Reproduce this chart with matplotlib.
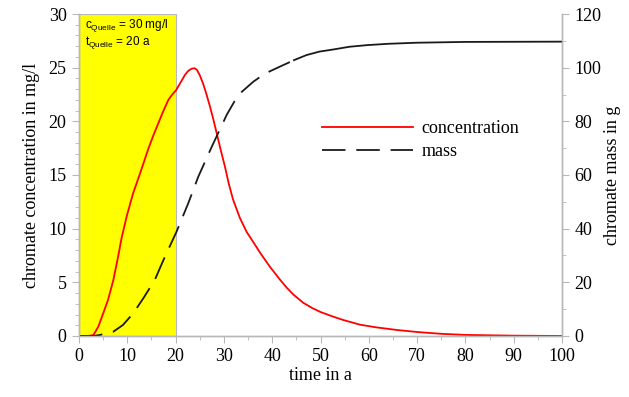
import numpy as np
import matplotlib
matplotlib.use('Agg')
import matplotlib.pyplot as plt
from matplotlib.ticker import MultipleLocator

#----------------------------------------------------------------------
# DATA
t_conc = [0, 2, 3, 4, 5, 6, 7.1, 8.1, 8.8, 9.9, 11.2, 12.6, 13.5, 14.4,
          15.4, 16.4, 17.4, 18.5, 19.3, 20.1, 21.0, 21.9, 22.6, 23.3, 23.9, 24.4, 25.0,
          25.7, 26.4, 27.1, 27.8, 28.5, 29.3, 30.2, 31.0, 31.9, 33.3, 34.7, 36.0, 37.5,
          39.5, 41.6, 43.0, 44.4, 46.4, 48.2, 49.9, 52.3, 54.7, 58.2, 61.6, 65.8, 70,
          75, 80, 90, 100]
conc = [0, 0, 0.1, 0.87, 2.1, 3.35, 5.2, 7.4, 9.1, 11.2, 13.3, 15.1, 16.3, 17.5,
        18.7, 19.8, 20.9, 22.0, 22.5, 22.9, 23.6, 24.3, 24.7, 24.9, 24.95, 24.8, 24.3,
        23.5, 22.5, 21.4, 20.2, 18.9, 17.4, 15.8, 14.2, 12.7, 11.0, 9.7, 8.8, 7.75,
        6.46, 5.25, 4.5, 3.85, 3.1, 2.62, 2.25, 1.85, 1.49, 1.05, 0.8, 0.56, 0.37,
        0.2, 0.1, 0.03, 0.0]

t_mass = [0, 3, 4.35, 7.1, 9.1, 11.2, 13.3, 15.7, 16.8, 17.8, 20.2, 22.6, 24.7, 27.5,
          30.6, 32.2, 33.7, 36.1, 38.5, 41.6, 44.5, 47.1, 49.8, 52.7, 56, 59.6, 64,
          69.9, 80, 100]
mass = [0, 0, 0.4, 1.6, 4.1, 8.4, 14.0, 20.9, 25.5, 29.6, 38.9, 49.4, 59.4, 70.6,
        82.5, 87.5, 91.0, 94.8, 97.8, 100.4, 102.8, 104.7, 106.0, 106.8, 107.8, 108.4,
        108.9, 109.3, 109.6, 109.7]

source_end = 20
labels = ['concentration', 'mass']

#----------------------------------------------------------------------
# FIGURE SETUP
plt.rcParams['font.family'] = 'Liberation Serif'
grey = '#b8b8b8'

fig = plt.figure(figsize=(6.29, 3.97), dpi=100)
ax1 = fig.add_axes([0.1256, 0.1537, 0.768, 0.811])
ax2 = ax1.twinx()

# source period shaded yellow
ax1.axvspan(0, source_end, facecolor='#ffff00', edgecolor=grey, lw=0.8, zorder=0)

l1, = ax1.plot(t_conc, conc, color='#ff0000', lw=1.3, zorder=3)

# mass: dashed while rising, the dense plateau looks solid
tm = np.array(t_mass)
mm = np.array(mass)
rise = tm <= 45
l2, = ax2.plot(tm[rise], mm[rise], color='#1a1a1a', lw=1.3, dashes=(13, 6))
ax2.plot(tm[tm >= 44.5], mm[tm >= 44.5], color='#1a1a1a', lw=1.3)

ax1.set_xlim(0, 100)
ax1.set_ylim(0, 30)
ax2.set_ylim(0, 120)

ax1.xaxis.set_major_locator(MultipleLocator(10))
ax1.xaxis.set_minor_locator(MultipleLocator(5))
ax1.yaxis.set_major_locator(MultipleLocator(5))
ax1.yaxis.set_minor_locator(MultipleLocator(1))
ax2.yaxis.set_major_locator(MultipleLocator(20))
ax2.yaxis.set_minor_locator(MultipleLocator(10))

for ax in (ax1, ax2):
    ax.spines['top'].set_visible(False)
    for s in ('left', 'right', 'bottom'):
        ax.spines[s].set_color(grey)
        ax.spines[s].set_linewidth(1.0)
    ax.tick_params(which='both', color=grey, labelsize=13, direction='out')
    ax.tick_params(which='major', length=5, pad=4)
    ax.tick_params(which='minor', length=3)

ax1.set_xlabel('time in a', fontsize=13, labelpad=1)
ax1.set_ylabel('chromate concentration in mg/l', fontsize=13, labelpad=6)
ax2.set_ylabel('chromate mass in g', fontsize=13, labelpad=2)

# source info
ax1.text(1.2, 28.9, r'$\mathregular{c_{Quelle}}$ = 30 mg/l', fontsize=8.5,
         family='Liberation Sans', va='center')
ax1.text(1.2, 27.3, r'$\mathregular{t_{Quelle}}$ = 20 a', fontsize=8.5,
         family='Liberation Sans', va='center')

ax2.legend([l1, l2], labels, loc='upper left', bbox_to_anchor=(0.47, 0.72),
           frameon=False, fontsize=13, handlelength=5.0, handletextpad=0.5,
           labelspacing=0.3)

fig.savefig('out.png', dpi=100)
